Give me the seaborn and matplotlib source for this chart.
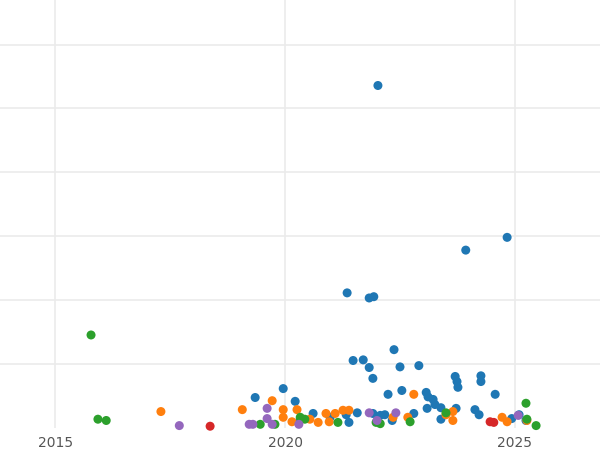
import numpy as np
import pandas as pd
import seaborn as sns
import matplotlib.pyplot as plt

# x = fractional year, y = value
blue_x = [2022.02, 2023.93, 2024.83, 2021.35, 2021.83, 2021.93, 2021.48, 2021.70, 2021.83, 2021.91,
          2022.37, 2022.50, 2022.91, 2022.54, 2022.24, 2019.35, 2019.96, 2020.22, 2020.61, 2021.57,
          2021.91, 2022.17, 2022.07, 2021.39, 2022.33, 2022.80, 2023.07, 2023.11, 2023.22, 2023.26,
          2023.09, 2023.39, 2023.72, 2023.70, 2023.74, 2023.76, 2024.26, 2024.26, 2024.13, 2024.22,
          2024.57, 2023.39, 2024.93, 2025.09, 2025.24, 2020.33, 2020.98, 2021.33]
blue_y = [53.6, 27.8, 29.8, 21.1, 20.3, 20.5, 10.5, 10.6, 9.4, 7.7,
          12.2, 9.5, 9.7, 5.8, 5.2, 4.7, 6.1, 4.1, 2.2, 2.3,
          2.2, 2.0, 1.9, 0.8, 1.1, 2.2, 5.5, 4.8, 4.4, 3.6,
          3.0, 3.1, 3.0, 8.0, 7.2, 6.3, 8.1, 7.2, 2.8, 2.0,
          5.2, 1.3, 1.4, 2.0, 1.1, 1.3, 1.6, 2.0]
orange_x = [2017.30, 2019.07, 2019.72, 2019.96, 2019.96, 2020.26, 2020.15, 2020.54, 2020.72, 2020.89,
            2021.09, 2021.26, 2021.39, 2020.96, 2022.80, 2022.35, 2023.50, 2023.65, 2023.65, 2024.72,
            2024.83, 2025.26, 2022.67]
orange_y = [2.5, 2.8, 4.2, 2.8, 1.6, 2.8, 0.9, 1.3, 0.8, 2.2,
            2.2, 2.7, 2.7, 0.9, 5.2, 1.6, 2.0, 1.1, 2.5, 1.6,
            0.9, 1.1, 1.6]
green_x = [2015.78, 2015.93, 2016.11, 2019.46, 2019.78, 2020.33, 2020.43, 2021.15, 2021.98, 2022.07,
           2022.72, 2023.50, 2025.24, 2025.46, 2025.26]
green_y = [14.5, 1.3, 1.1, 0.5, 0.5, 1.6, 1.3, 0.8, 0.8, 0.6,
           0.9, 2.3, 3.8, 0.3, 1.3]
red_x = [2018.37, 2024.46, 2024.54]
red_y = [0.2, 0.9, 0.8]
purple_x = [2017.70, 2019.22, 2019.30, 2019.61, 2019.61, 2019.72, 2020.30, 2021.83, 2022.41, 2025.07, 2022.00]
purple_y = [0.3, 0.5, 0.5, 3.0, 1.4, 0.5, 0.5, 2.3, 2.3, 1.9, 1.1]

groups = {'a': (blue_x, blue_y), 'b': (orange_x, orange_y), 'c': (green_x, green_y),
          'd': (red_x, red_y), 'e': (purple_x, purple_y)}
df = pd.concat([pd.DataFrame({'year': x, 'value': y, 'group': g}) for g, (x, y) in groups.items()])

sns.set_style('white')
fig = plt.figure(figsize=(6, 4.5), dpi=100)
ax = fig.add_axes([0, 0.05, 1, 0.95])
sns.scatterplot(data=df, x='year', y='value', hue='group',
                palette=['#1f77b4', '#ff7f0e', '#2ca02c', '#d62728', '#9467bd'],
                s=42, linewidth=0, legend=False, ax=ax, clip_on=False, zorder=3)
ax.set_xlim(2013.8, 2026.85)
ax.set_ylim(0, 67)
ax.set_xticks([2015, 2020, 2025])
ax.set_yticks([10, 20, 30, 40, 50, 60])
ax.set_yticklabels([])
ax.grid(True, color='#ebebeb', linewidth=1.2)
ax.tick_params(length=0, labelsize=10, colors='#555555', pad=6)
ax.set_xlabel('')
ax.set_ylabel('')
for s in ax.spines.values():
    s.set_visible(False)
fig.savefig('out.png', dpi=100)
